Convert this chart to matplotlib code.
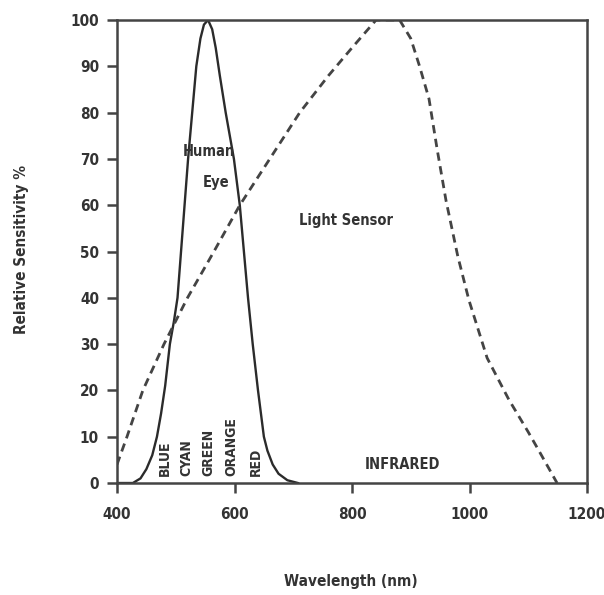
import numpy as np
import matplotlib
matplotlib.use("Agg")
import matplotlib.pyplot as plt

# human eye response (solid)
eye_nm = [400, 427, 440, 450, 460, 468, 475, 482, 490, 497, 503, 509, 515, 521,
          528, 535, 542, 548, 555, 562, 568, 575, 585, 592, 599, 609, 616, 623,
          631, 640, 645, 650, 656, 665, 675, 690, 708]
eye_pct = [0, 0, 1, 3, 6, 10, 15, 21, 30, 35, 40, 50, 60, 70,
           80, 90, 96, 99, 100, 98, 94, 88, 80, 75, 70, 60, 50, 40,
           30, 20, 15, 10, 7, 4, 2, 0.6, 0]

# light sensor response (dashed)
sens_nm = [400, 417, 444, 480, 520, 565, 609, 660, 711, 760, 800, 841, 860, 881, 900,
           915, 931, 945, 960, 980, 999, 1030, 1067, 1100, 1118, 1149]
sens_pct = [4, 10, 20, 30, 40, 50, 60, 70, 80, 88, 94, 100, 100, 100, 96,
            90, 83, 72, 61, 49, 39.5, 27, 18, 11, 7, 0]

band_names = ["BLUE", "CYAN", "GREEN", "ORANGE", "RED"]
band_nm = [482, 518, 555, 595, 637]

fnt = dict(family="DejaVu Sans", stretch="condensed", weight="bold", color="#333333")

fig = plt.figure(figsize=(6.04, 5.95), dpi=100)
ax = fig.add_axes([0.1937, 0.1882, 0.7782, 0.7782])

ax.plot(eye_nm, eye_pct, color="#2b2b2b", lw=1.7)
ax.plot(sens_nm, sens_pct, color="#444444", lw=2.0, ls=(0, (3, 2)))

ax.set_xlim(400, 1200)
ax.set_ylim(0, 100)
ax.set_xticks(range(400, 1201, 200))
ax.set_yticks(range(0, 101, 10))
for s in ax.spines.values():
    s.set_linewidth(1.8)
    s.set_color("#444444")
ax.tick_params(direction="out", length=7, width=1.8, color="#444444",
               labelsize=11, labelcolor="#333333")
for lab in ax.get_xticklabels() + ax.get_yticklabels():
    lab.set_fontstretch("condensed")
    lab.set_fontweight("bold")
ax.tick_params(axis="x", pad=10)
ax.tick_params(axis="y", pad=6)

ax.text(557, 71.5, "Human", ha="center", va="center", fontsize=10.5, **fnt)
ax.text(569, 64.8, "Eye", ha="center", va="center", fontsize=10.5, **fnt)
ax.text(789, 56.8, "Light Sensor", ha="center", va="center", fontsize=10.5, **fnt)
ax.text(885, 4, "INFRARED", ha="center", va="center", fontsize=10.5, **fnt)
for name, x in zip(band_names, band_nm):
    ax.text(x, 1.5, name, rotation=90, ha="center", va="bottom", fontsize=10, **fnt)

fig.text(0.036, 0.58, "Relative Sensitivity %", rotation=90, ha="center",
         va="center", fontsize=11, **fnt)
fig.text(0.58, 0.022, "Wavelength (nm)", ha="center", va="center", fontsize=11, **fnt)

fig.savefig("out.png", dpi=100)
